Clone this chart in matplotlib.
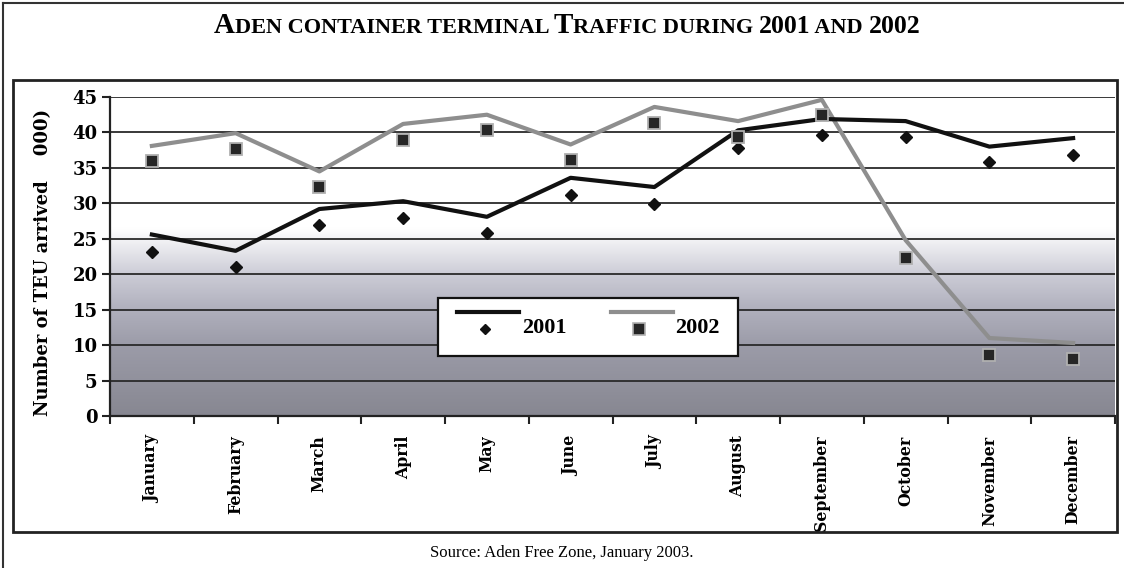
import matplotlib
matplotlib.use('Agg')
import matplotlib.pyplot as plt
from matplotlib.lines import Line2D
from matplotlib.legend_handler import HandlerBase
from matplotlib.colors import LinearSegmentedColormap
import numpy as np

months = ['January', 'February', 'March', 'April', 'May', 'June', 'July',
          'August', 'September', 'October', 'November', 'December']
# line values and marker values are drawn separately in the original
line_2001 = [25.6, 23.3, 29.2, 30.3, 28.1, 33.6, 32.3, 40.3, 41.9, 41.6, 38.0, 39.2]
mark_2001 = [23.2, 21.0, 27.0, 28.0, 25.8, 31.2, 29.9, 37.8, 39.6, 39.3, 35.8, 36.8]
line_2002 = [38.1, 39.9, 34.5, 41.2, 42.5, 38.3, 43.6, 41.6, 44.6, 24.8, 11.0, 10.3]
mark_2002 = [36.0, 37.6, 32.3, 38.9, 40.3, 36.1, 41.4, 39.4, 42.5, 22.3, 8.6, 8.0]
yticks = [0, 5, 10, 15, 20, 25, 30, 35, 40, 45]

SERIF = 'DejaVu Serif'
C01 = '#111111'
C02 = '#8e8e8e'

fig = plt.figure(figsize=(11.24, 5.68), dpi=100)
ax = fig.add_axes([110 / 1124, 1 - 416 / 568, 1005 / 1124, 319 / 568])

# background gradient (white on top, grey-blue at the bottom)
bg = LinearSegmentedColormap.from_list('bg', [
    (0.0, (0.53, 0.53, 0.57)),
    (10 / 45, (0.61, 0.61, 0.66)),
    (15 / 45, (0.69, 0.69, 0.74)),
    (20 / 45, (0.80, 0.80, 0.84)),
    (26.5 / 45, (1.0, 1.0, 1.0)),
    (1.0, (1.0, 1.0, 1.0))])
grad = np.linspace(0, 1, 256).reshape(-1, 1)
ax.imshow(grad, cmap=bg, origin='lower', aspect='auto',
          extent=[-0.5, 11.5, 0, 45], zorder=0)

for y in yticks[1:]:
    ax.axhline(y, color='#2a2a2a', lw=1.3, zorder=1)

x = np.arange(len(months))
ax.plot(x, line_2002, color=C02, lw=3, zorder=3)
ax.plot(x, line_2001, color=C01, lw=3, zorder=3)
ax.plot(x, mark_2001, ls='none', marker='D', ms=6, color=C01, zorder=4)
ax.plot(x, mark_2002, ls='none', marker='s', ms=8.5, mfc='#262626',
        mec='#b0b0b0', mew=1.3, zorder=4)

ax.set_xlim(-0.5, 11.5)
ax.set_ylim(0, 45)
ax.set_yticks(yticks)
ax.set_yticklabels([str(v) for v in yticks], fontfamily=SERIF,
                   fontweight='bold', fontsize=13)
ax.set_xticks(np.arange(-0.5, 12, 1))
ax.set_xticklabels([])
ax.set_xticks(x, minor=True)
ax.set_xticklabels(months, minor=True, rotation=90, fontfamily=SERIF,
                   fontweight='bold', fontsize=11.3)
ax.tick_params(axis='x', which='major', length=6, width=1.5, color='#222222')
ax.tick_params(axis='x', which='minor', length=0, pad=14)
ax.tick_params(axis='y', length=6, width=1.5, color='#222222', pad=3)
for s in ['left', 'bottom']:
    ax.spines[s].set_linewidth(1.6)
    ax.spines[s].set_color('#222222')
ax.spines['top'].set_visible(False)
ax.spines['right'].set_visible(False)

ax.set_ylabel('Number of TEU arrived    000)', fontfamily=SERIF,
              fontweight='bold', fontsize=13)
ax.yaxis.set_label_coords(-0.058, 0.48)


class LineOverMarker(HandlerBase):
    def __init__(self, mkw):
        super().__init__()
        self.mkw = mkw

    def create_artists(self, legend, orig_handle, xdescent, ydescent,
                       width, height, fontsize, trans):
        ln = Line2D([0, width], [height * 1.3] * 2, color=orig_handle.get_color(),
                    lw=orig_handle.get_linewidth(), transform=trans)
        mk = Line2D([width * 0.45], [height * 0.2], ls='none', transform=trans,
                    **self.mkw)
        return [ln, mk]


h01 = Line2D([], [], color=C01, lw=3)
h02 = Line2D([], [], color=C02, lw=3)
leg = ax.legend([h01, h02], ['2001', '2002'], ncol=2, loc='center',
                bbox_to_anchor=(0.476, 0.278), fancybox=False, framealpha=1,
                edgecolor='#111111', handlelength=2.8, handletextpad=0.1,
                columnspacing=2.0, borderpad=0.85, borderaxespad=0,
                prop={'family': 'Liberation Serif', 'weight': 'bold', 'size': 16},
                handler_map={h01: LineOverMarker(dict(marker='D', ms=5.5, color=C01)),
                             h02: LineOverMarker(dict(marker='s', ms=8, mfc='#262626',
                                                      mec='#b0b0b0', mew=1.2))})
leg.get_frame().set_linewidth(1.6)
leg.set_zorder(6)

# frames around the figure
fig.add_artist(plt.Rectangle((13 / 1124, 1 - 532 / 568), 1104 / 1124, 452 / 568,
                             fill=False, lw=2, ec='#222222', transform=fig.transFigure))
fig.add_artist(Line2D([3 / 1124, 3 / 1124], [0, 1 - 3 / 568], lw=1.5, color='#333333',
                      transform=fig.transFigure))
fig.add_artist(Line2D([3 / 1124, 1], [1 - 3 / 568, 1 - 3 / 568], lw=1.5, color='#333333',
                      transform=fig.transFigure))

# small-caps style title built from pieces placed one after another
pieces = [('A', 21), ('DEN CONTAINER TERMINAL ', 16), ('T', 21),
          ('RAFFIC DURING ', 16), ('2001', 18.5), (' AND ', 16), ('2002', 18.5)]
fig.canvas.draw()
renderer = fig.canvas.get_renderer()
items = []
xpx = 0.0
for txt, sz in pieces:
    t = fig.text(xpx / fig.bbox.width, 1 - 33 / 568, txt, fontsize=sz,
                 fontfamily='Liberation Serif', fontweight='bold', va='baseline')
    xpx = t.get_window_extent(renderer).x1
    items.append(t)
# center the whole title
left = items[0].get_window_extent(renderer).x0
shift = (fig.bbox.width / 2 + 5 - (left + xpx) / 2) / fig.bbox.width
for t in items:
    px, py = t.get_position()
    t.set_position((px + shift, py))

fig.text(0.5, 1 - 553 / 568, 'Source: Aden Free Zone, January 2003.',
         fontfamily='Liberation Serif', fontsize=12, ha='center', va='center')

fig.savefig('out.png', dpi=100)
